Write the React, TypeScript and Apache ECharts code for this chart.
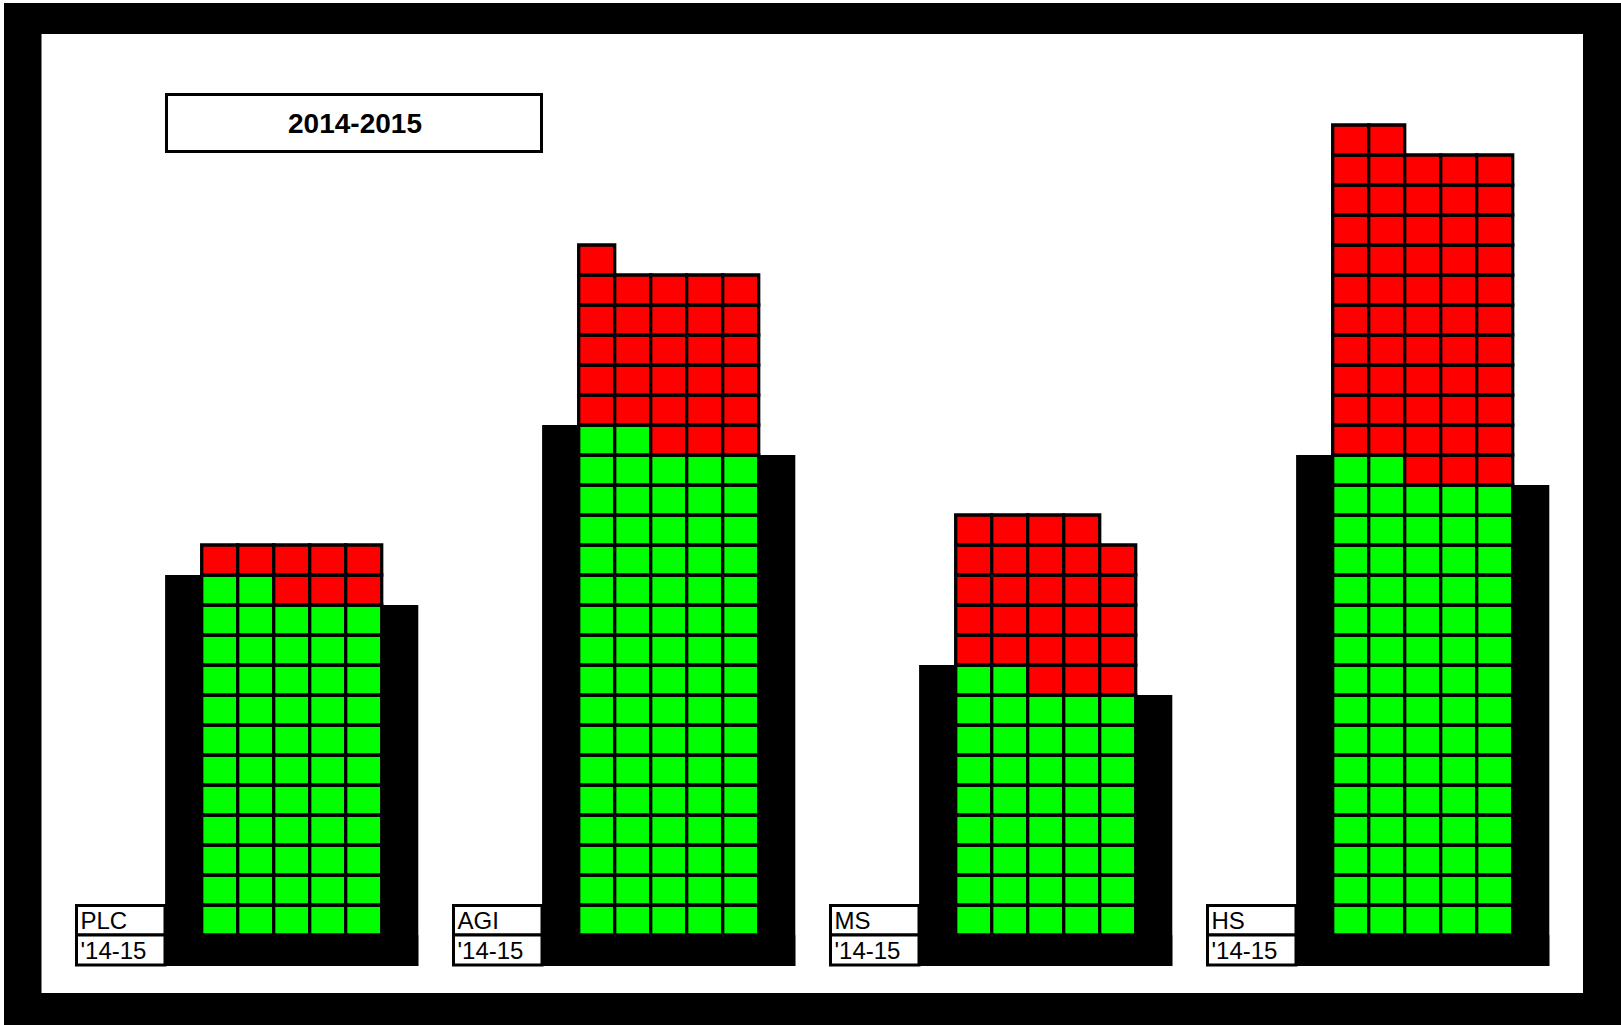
import React, { useEffect, useRef } from "react";
import * as echarts from "echarts";

// ---- data ----
const categories: string[] = ["PLC", "AGI", "MS", "HS"];
const periodLabels: string[] = ["'14-15", "'14-15", "'14-15", "'14-15"];
const greenCounts: number[] = [57, 82, 42, 77];
const redCounts: number[] = [8, 29, 27, 55];
const titleText = "2014-2015";

// ---- layout / style constants ----
const W = 1621;
const H = 1025;
const COLS = 5;
const COL_W = 36;
const LINE_W = 3.3;
const GREEN = "#00ff00";
const RED = "#ff0000";
const FONT = "'Liberation Sans', Arial, sans-serif";

export default function App() {
  const ref = useRef<HTMLDivElement | null>(null);

  useEffect(() => {
    if (!ref.current) return;
    const chart = echarts.init(ref.current, null, { renderer: "svg" });

    const data = categories.map((c, i) => [i, greenCounts[i], redCounts[i]]);

    const renderItem = (params: any, api: any) => {
      const idx = api.value(0);
      const g = api.value(1);
      const r = api.value(2);
      const base = api.coord([idx, 0]);
      const cx = base[0];
      const y0 = base[1];
      const gridLeft = cx - (COLS * COL_W) / 2;
      const gridRight = cx + (COLS * COL_W) / 2;
      const children: any[] = [];

      const leftTop = api.coord([idx, Math.ceil(g / COLS)])[1];
      const rightTop = api.coord([idx, Math.floor(g / COLS)])[1];
      const baseBottom = y0 + 31;
      const sideW = 36.6;

      // black shadow
      children.push({
        type: "rect",
        shape: { x: gridLeft - sideW, y: leftTop, width: sideW + 2, height: baseBottom - leftTop },
        style: { fill: "#000" },
      });
      children.push({
        type: "rect",
        shape: { x: gridRight - 2, y: rightTop, width: sideW + 2, height: baseBottom - rightTop },
        style: { fill: "#000" },
      });
      children.push({
        type: "rect",
        shape: { x: gridLeft - sideW, y: y0, width: gridRight - gridLeft + 2 * sideW, height: baseBottom - y0 },
        style: { fill: "#000" },
      });

      // waffle cells
      const total = g + r;
      for (let k = 0; k < total; k++) {
        const row = Math.floor(k / COLS);
        const col = k % COLS;
        const yTop = api.coord([idx, row + 1])[1];
        const yBot = api.coord([idx, row])[1];
        children.push({
          type: "rect",
          shape: { x: gridLeft + col * COL_W, y: yTop, width: COL_W, height: yBot - yTop },
          style: { fill: k < g ? GREEN : RED, stroke: "#000", lineWidth: LINE_W },
        });
      }

      // label boxes
      const boxL = gridLeft - 126.7 + 1.5;
      const boxW = 90 - 1.5;
      const rowTop = y0 - 31 + 1.5;
      children.push({
        type: "rect",
        shape: { x: boxL, y: rowTop, width: boxW, height: y0 - rowTop },
        style: { fill: "#fff", stroke: "#000", lineWidth: 3 },
      });
      children.push({
        type: "rect",
        shape: { x: boxL, y: y0, width: boxW, height: baseBottom - 1 - y0 },
        style: { fill: "#fff", stroke: "#000", lineWidth: 3 },
      });
      children.push({
        type: "text",
        style: {
          text: categories[idx],
          x: boxL + 4,
          y: y0 - 14.5,
          fill: "#000",
          font: `24px ${FONT}`,
          textAlign: "left",
          align: "left",
          textVerticalAlign: "middle",
          verticalAlign: "middle",
        },
      });
      children.push({
        type: "text",
        style: {
          text: periodLabels[idx],
          x: boxL + 4,
          y: y0 + 15.5,
          fill: "#000",
          font: `24px ${FONT}`,
          textAlign: "left",
          align: "left",
          textVerticalAlign: "middle",
          verticalAlign: "middle",
        },
      });

      return { type: "group", children };
    };

    chart.setOption({
      animation: false,
      backgroundColor: "#fff",
      grid: { left: 103.2, right: W - 103.2 - 1508, top: 35, bottom: H - 935 },
      xAxis: {
        type: "category",
        data: categories,
        boundaryGap: true,
        axisLine: { show: false },
        axisTick: { show: false },
        axisLabel: { show: false },
        splitLine: { show: false },
      },
      yAxis: {
        type: "value",
        min: 0,
        max: 30,
        axisLine: { show: false },
        axisTick: { show: false },
        axisLabel: { show: false },
        splitLine: { show: false },
      },
      graphic: [
        { type: "rect", z: -10, shape: { x: 4, y: 3, width: W - 4, height: H - 3 }, style: { fill: "#000" } },
        { type: "rect", z: -9, shape: { x: 41.5, y: 34, width: 1583 - 41.5, height: 993 - 34 }, style: { fill: "#fff" } },
        {
          type: "rect",
          z: -8,
          shape: { x: 166.5, y: 94.5, width: 375, height: 57 },
          style: { fill: "#fff", stroke: "#000", lineWidth: 3 },
        },
        {
          type: "text",
          z: -7,
          style: {
            text: titleText,
            x: 355,
            y: 123,
            fill: "#000",
            font: `bold 28px ${FONT}`,
            textAlign: "center",
            align: "center",
            textVerticalAlign: "middle",
            verticalAlign: "middle",
          },
        },
      ],
      series: [
        {
          type: "custom",
          renderItem,
          data,
          z: 5,
          clip: false,
        },
      ],
    });

    return () => {
      chart.dispose();
    };
  }, []);

  return (
    <div
      ref={ref}
      style={{ position: "absolute", left: 0, top: 0, width: W, height: H }}
    />
  );
}
